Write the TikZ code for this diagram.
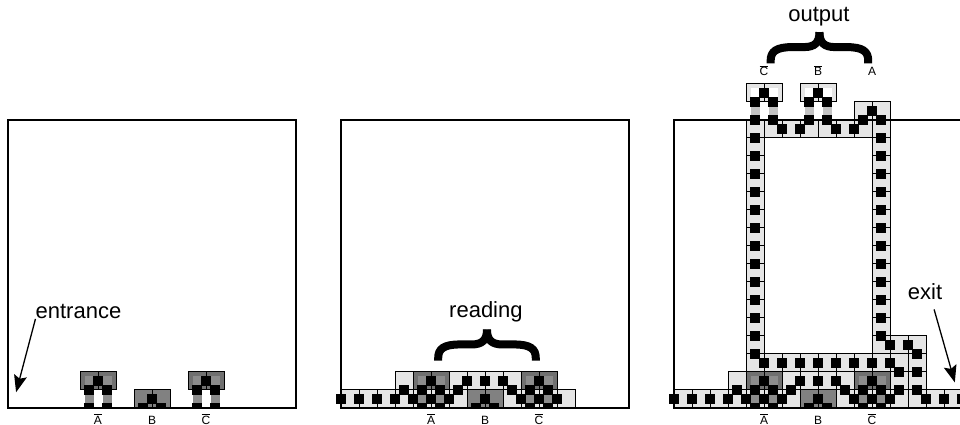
\documentclass[tikz,border=0pt]{standalone}
\usepackage{fontspec}
\setmainfont{Liberation Sans}
\usetikzlibrary{arrows.meta}
\usetikzlibrary{calc}

\definecolor{lighttile}{HTML}{E5E5E5}
\definecolor{darktile}{HTML}{707070}
\definecolor{midsquare}{HTML}{8C8C8C}

% signal squares, list of x/y
\newcommand{\signals}[1]{\foreach \sigx/\sigy in {#1} {\fill[black] (\sigx-0.55,\sigy-0.55) rectangle ++(1.1,1.1);}}
% two tiles next to each other
\newcommand{\tilepair}[3]{\draw[tileline,fill=#3] (#1,#2) rectangle ++(2,2); \draw[tileline,fill=#3] (#1+2,#2) rectangle ++(2,2);}
% gate with two legs: x, y, tile colour, inner colour, leg colour
\newcommand{\leggate}[5]{
	\tilepair{#1}{#2+2}{#3}
	\fill[#4] (#1+0.5,#2+2.5) rectangle ++(1,1);
	\fill[#4] (#1+2.5,#2+2.5) rectangle ++(1,1);
	\fill[#5] (#1+0.5,#2+0.5) rectangle ++(1,1);
	\fill[#5] (#1+2.5,#2+0.5) rectangle ++(1,1);
}
\newcommand{\lowrow}{
	\foreach \x in {8,10,20,22} {\draw[tileline,fill=lighttile] (\x,0) rectangle ++(2,2);}
}
\newcommand{\gatesignals}{
	\signals{9/0,11/0,9/2,11/2,10/3,21/0,23/0,21/2,23/2,22/3,15/0,17/0,16/1}
}
\newcommand{\labelsbelow}[1]{
	\node[smalltext] (abar#1) at (10,-1.78) {$\overline{\mbox{A}}$};
	\node[smalltext] (b#1) at (16,-1.78) {B};
	\node[smalltext] (cbar#1) at (22,-1.78) {$\overline{\mbox{C}}$};
}
% curly bracket, from the foot of its left leg
\newcommand{\curlybrace}[1]{
	\begin{scope}[shift={(#1)}]
		\draw[bracestroke] (0,0) -- (0,0.3) .. controls (0,1.3) and (0.6,1.8) .. (2.4,1.8) -- (3.7,1.8) .. controls (4.9,1.8) and (5.42,2.3) .. (5.42,3.46);
		\draw[bracestroke] (10.84,0) -- (10.84,0.3) .. controls (10.84,1.3) and (10.24,1.8) .. (8.44,1.8) -- (7.14,1.8) .. controls (5.94,1.8) and (5.42,2.3) .. (5.42,3.46);
	\end{scope}
}

\begin{document}
\begin{tikzpicture}[x=9pt, y=9pt, line cap=butt, line join=miter,
	tileline/.style={draw=black, line width=1pt},
	frameline/.style={draw=black, line width=1.4pt},
	bigtext/.style={font=\fontsize{22}{24}\selectfont, inner sep=0pt, anchor=base},
	smalltext/.style={font=\fontsize{12}{13}\selectfont, inner sep=0pt, anchor=base},
	pointer/.style={-{Stealth[length=17pt,width=13pt,inset=3pt]}, line width=1.3pt},
	bracestroke/.style={draw=black, line width=8pt}]
	\useasboundingbox (0pt,0pt) rectangle (960pt,425pt);
	
	% First panel
	\begin{scope}[shift={(8pt,17pt)}]
		\begin{scope}
			\clip (-1,0) rectangle (33,5);
			\leggate{8}{0}{darktile}{midsquare}{midsquare}
			\leggate{20}{0}{darktile}{midsquare}{midsquare}
			\tilepair{14}{0}{midsquare!92!black}
			\gatesignals
		\end{scope}
		\draw[frameline] (0,0) rectangle (32,32);
		\labelsbelow{one}
		\node[bigtext] (entrancelabel) at (7.83,9.9) {entrance};
		\coordinate (entrancetip) at (0.9,1.75);
		\draw[pointer] (entrancelabel.base west) -- (entrancetip);
	\end{scope}
	
	% Second panel
	\begin{scope}[shift={(341pt,17pt)}]
		\begin{scope}
			\clip (-1,0) rectangle (33,5);
			\foreach \x in {0,2,4,6,12,18,24} {\draw[tileline,fill=lighttile] (\x,0) rectangle ++(2,2);}
			\foreach \x in {6,12,14,16,18} {\draw[tileline,fill=lighttile] (\x,2) rectangle ++(2,2);}
			\lowrow
			\leggate{8}{0}{darktile}{midsquare}{midsquare}
			\leggate{20}{0}{darktile}{midsquare}{midsquare}
			\tilepair{14}{0}{midsquare!92!black}
			\gatesignals
		\end{scope}
		\signals{0/1,2/1,4/1,6/1,8/1,10/1,12/1,20/1,22/1,24/1,7/2,13/2,19/2,10/3,14/3,16/3,18/3}
		\draw[frameline] (0,0) rectangle (32,32);
		\labelsbelow{two}
		\node[bigtext] (readinglabel) at (16.1,10) {reading};
		\curlybrace{10.8,5.26}
	\end{scope}
	
	% Third panel
	\begin{scope}[shift={(674pt,17pt)}]
		% columns going up
		\foreach \y in {6,8,...,30} {
			\draw[tileline,fill=lighttile] (8,\y) rectangle ++(2,2);
			\draw[tileline,fill=lighttile] (22,\y) rectangle ++(2,2);
		}
		\draw[tileline,fill=lighttile] (22,32) rectangle ++(2,2);
		\draw[tileline,fill=lighttile] (20,32) rectangle ++(2,2);
		\foreach \x in {10,12,...,20} {\draw[tileline,fill=lighttile] (\x,30) rectangle ++(2,2);}
		% lower block
		\foreach \x in {24,26} {\draw[tileline,fill=lighttile] (\x,6) rectangle ++(2,2);}
		\foreach \x in {8,10,...,26} {\draw[tileline,fill=lighttile] (\x,4) rectangle ++(2,2);}
		\foreach \x in {6,12,14,16,18,24,26} {\draw[tileline,fill=lighttile] (\x,2) rectangle ++(2,2);}
		\foreach \x in {0,2,4,6,12,18,24,26,28,30} {\draw[tileline,fill=lighttile] (\x,0) rectangle ++(2,2);}
		\begin{scope}
			\clip (-1,0) rectangle (35,5);
			\lowrow
			\leggate{8}{0}{darktile}{midsquare}{midsquare}
			\leggate{20}{0}{darktile}{midsquare}{midsquare}
			\tilepair{14}{0}{midsquare!92!black}
			\gatesignals
		\end{scope}
		% output gates
		\leggate{8}{32}{lighttile}{white}{lighttile!85!black}
		\leggate{14}{32}{lighttile}{white}{lighttile!85!black}
		\signals{0/1,2/1,4/1,6/1,8/1,10/1,12/1,20/1,22/1,24/1,7/2,13/2,19/2,10/3,14/3,16/3,18/3}
		\signals{28/1,30/1,32/1,25/2,27/2,25/4,27/4,27/6,24/7,26/7}
		\foreach \k in {10,12,...,24} {\signals{\k/5}}
		\signals{9/6}
		\foreach \k in {8,10,...,30} {\signals{9/\k,23/\k}}
		\signals{9/32,11/32,9/34,11/34,10/35,15/32,17/32,15/34,17/34,16/35}
		\signals{12/31,14/31,18/31,20/31,21/32,23/32,22/33}
		\draw[frameline] (0,0) rectangle (32,32);
		\labelsbelow{three}
		\node[smalltext] (cbarout) at (10,36.9) {$\overline{\mbox{C}}$};
		\node[smalltext] (bbarout) at (16,36.9) {$\overline{\mbox{B}}$};
		\node[smalltext] (aout) at (22,36.9) {A};
		\node[bigtext] (outputlabel) at (16.1,42.9) {output};
		\curlybrace{10.74,38.3}
		\node[bigtext] (exitlabel) at (27.9,12) {exit};
		\coordinate (exittip) at (31.2,2.85);
		\draw[pointer] ($(exitlabel.south)+(1,-1)$) -- (exittip);
	\end{scope}
\end{tikzpicture}
\end{document}
